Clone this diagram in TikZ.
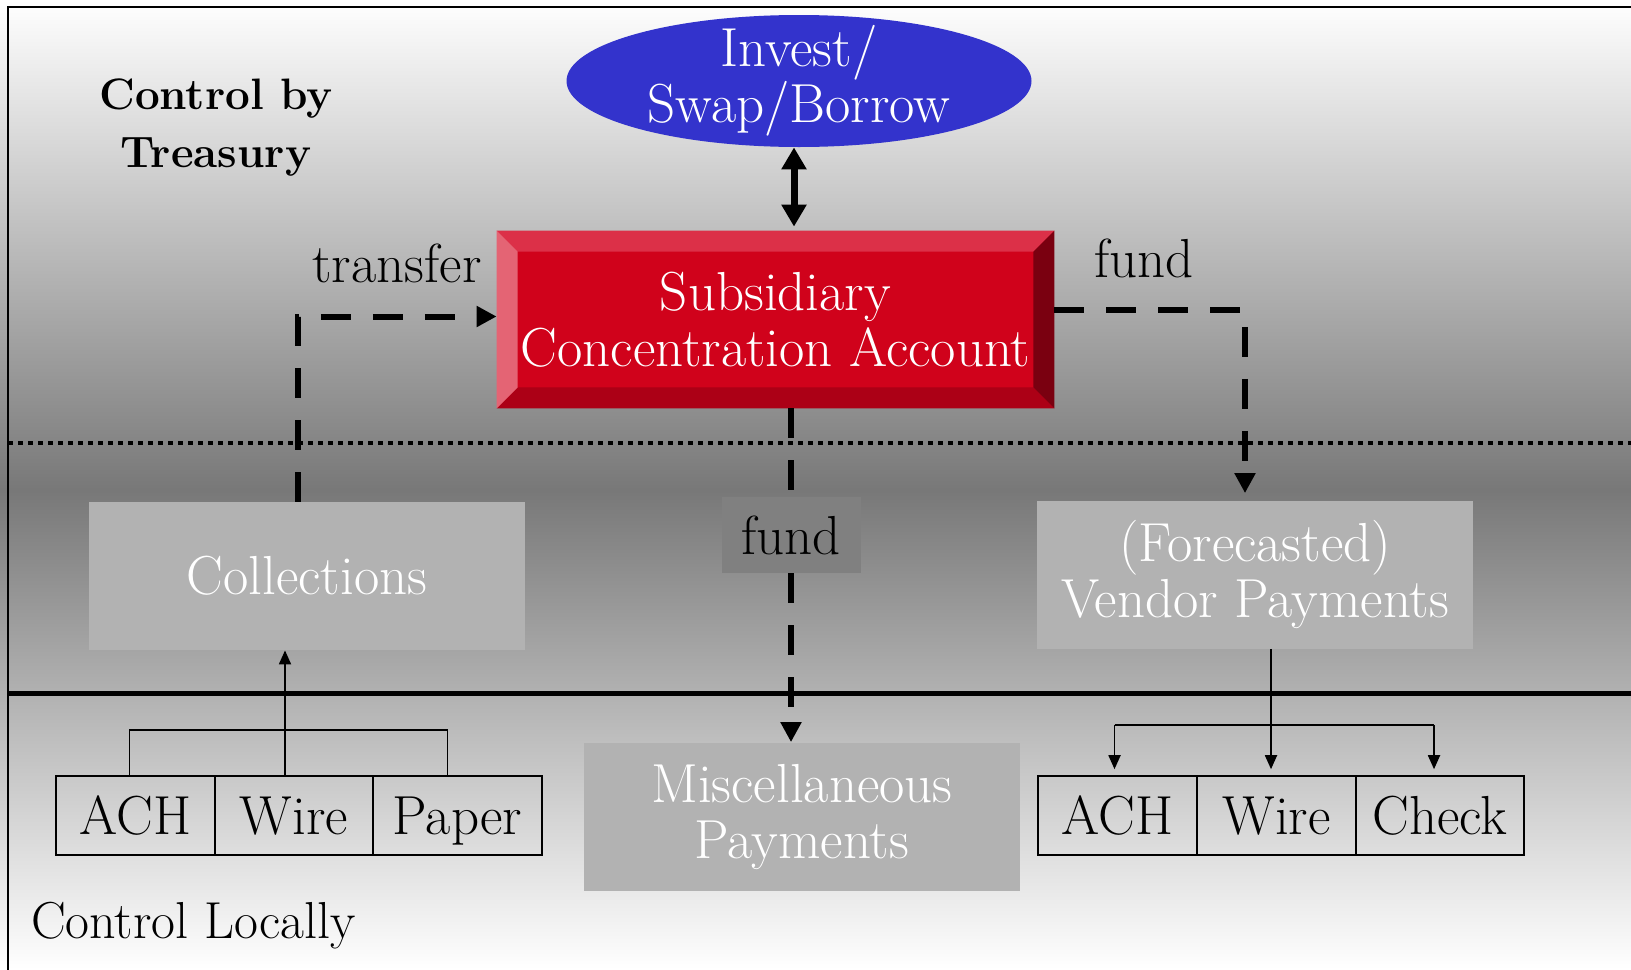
\documentclass[tikz,border=0pt]{standalone}
\usepackage{fontspec}
\usepackage{tikz}
\usetikzlibrary{arrows.meta,calc,positioning,shapes.geometric}

\definecolor{investblue}{HTML}{3333CC}
\definecolor{scaface}{HTML}{D0021B}
\definecolor{scatop}{HTML}{DC3048}
\definecolor{scaleft}{HTML}{E46474}
\definecolor{scabottom}{HTML}{AC0016}
\definecolor{scaright}{HTML}{7A0010}
\definecolor{paygray}{HTML}{B2B2B2}
\definecolor{fundgray}{HTML}{808080}

\begin{document}
\begin{tikzpicture}[x=0.5pt,y=-0.5pt,
    bigtext/.style={font=\fontsize{27.5}{28}\selectfont},
    graybox/.style={bigtext,fill=paygray,text=white,align=center,minimum width=218pt,minimum height=74pt,inner sep=0pt},
    methodbox/.style={bigtext,draw,line width=0.8pt,text height=22pt,text depth=3pt,minimum height=39.5pt,inner sep=0pt},
    dashflow/.style={line width=3pt,dash pattern=on 15pt off 11pt},
    bigtip/.style={-{Triangle[length=10pt,width=10pt]}},
    smalltip/.style={-{Triangle[length=7pt,width=6pt]}},
    thinline/.style={line width=0.9pt}
]
    \useasboundingbox (0,0) rectangle (1631,969);
    %% Background
    \shade[top color=white,middle color=black!18,bottom color=black!53]
    (0,0) rectangle (1631,490)
    ;
    \shade[top color=black!53,bottom color=white]
    (0,490) rectangle (1631,969)
    ;
    \draw[line width=1pt]
    (8,1000) to (8,7) to (1700,7)
    ;
    \draw[line width=2pt,dash pattern=on 2.5pt off 2.5pt]
    (8,443) to (1631,443)
    ;
    \draw[line width=2.5pt]
    (8,693) to (1631,693)
    ;
    %% Treasury level
    \node[align=center,font=\fontsize{22}{29}\selectfont\bfseries] (treasury) at (216,128) {Control by\\Treasury};
    \node[ellipse,fill=investblue,minimum width=232.5pt,minimum height=66pt,inner sep=0pt] (invest) at (799,81) {};
    \node[bigtext,text=white,align=center] (investtxt) at (invest) {Invest/\\Swap/Borrow};
    \node[bigtext,fill=scaface,text=white,align=center,minimum width=278.5pt,minimum height=88.5pt,inner sep=0pt] (sca) at (775.5,319.5) {Subsidiary\\Concentration Account};
    \fill[scatop]
    (sca.north west) -- (sca.north east) -- ($(sca.north east)+(-21,21)$) -- ($(sca.north west)+(21,21)$) -- cycle
    ;
    \fill[scabottom]
    (sca.south west) -- (sca.south east) -- ($(sca.south east)+(-21,-21)$) -- ($(sca.south west)+(21,-21)$) -- cycle
    ;
    \fill[scaleft]
    (sca.north west) -- ($(sca.north west)+(21,21)$) -- ($(sca.south west)+(21,-21)$) -- (sca.south west) -- cycle
    ;
    \fill[scaright]
    (sca.north east) -- ($(sca.north east)+(-21,21)$) -- ($(sca.south east)+(-21,-21)$) -- (sca.south east) -- cycle
    ;
    \node[bigtext] (transfer) at (397,263) {transfer};
    \node[bigtext] (fundR) at (1144,258) {fund};
    %% Payments level
    \node[graybox] (coll) at (307,576) {Collections};
    \node[graybox] (vendor) at (1255,574.5) {(Forecasted)\\Vendor Payments};
    \node[graybox] (misc) at (802,816.5) {Miscellaneous\\Payments};
    \node[bigtext,fill=fundgray,minimum width=69.5pt,minimum height=38pt,inner sep=0pt] (fundM) at (791,535) {fund};
    %% Methods
    \foreach \name/\txt/\x/\w in {achL/ACH/135.5/79.5,wireL/Wire/294/79,paperL/Paper/457.5/84.5,achR/ACH/1117.5/79.5,wireR/Wire/1276.5/79.5,checkR/Check/1440/84}
    {
    \node[methodbox,minimum width=\w pt] (\name) at (\x,815.5) {\txt};
    }
    \node[font=\fontsize{26}{28}\selectfont,anchor=west] (local) at (24,926) {Control Locally};
    %% Flows
    \draw[line width=3.5pt,{Triangle[length=11pt,width=12pt]}-{Triangle[length=11pt,width=12pt]},shorten <=0pt,shorten >=2pt]
    ($(invest.south)+(-5,0)$) to ($(invest.south |- sca.north)+(-5,0)$)
    ;
    \draw[dashflow,bigtip]
    ($(coll.north)+(-9,0)$) |- ($(sca.west)+(0,-3)$)
    ;
    \draw[dashflow,bigtip,shorten >=3.5pt]
    ($(sca.east)+(0,-10)$) -| ($(vendor.north)+(-10,0)$)
    ;
    \draw[dashflow]
    (sca.south -| fundM.north) to (fundM.north)
    ;
    \draw[dashflow,bigtip]
    (fundM.south) to (fundM.south |- misc.north)
    ;
    %% Method links
    \coordinate (busL) at (285,730);
    \coordinate (busR) at (1271,725);
    \draw[thinline]
    ($(achL.north)+(-6,0)$) |- (busL) -| ($(paperL.north)+(-10,0)$)
    ;
    \draw[thinline,smalltip]
    (wireL.north -| busL) to (busL |- coll.south)
    ;
    \draw[thinline,smalltip,shorten >=3pt]
    (vendor.south -| busR) to (wireR.north -| busR)
    ;
    \draw[thinline]
    ($(busR -| achR.north)+(-3,0)$) to ($(busR -| checkR.north)+(-6,0)$)
    ;
    \draw[thinline,smalltip,shorten >=3pt]
    ($(busR -| achR.north)+(-3,0)$) to ($(achR.north)+(-3,0)$)
    ;
    \draw[thinline,smalltip,shorten >=3pt]
    ($(busR -| checkR.north)+(-6,0)$) to ($(checkR.north)+(-6,0)$)
    ;
\end{tikzpicture}
\end{document}
